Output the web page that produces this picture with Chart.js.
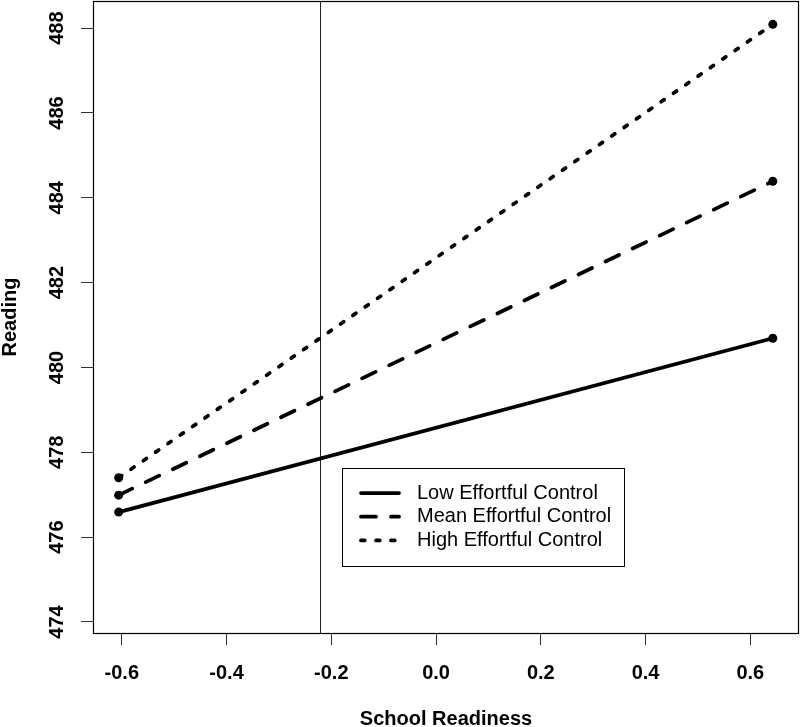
<!DOCTYPE html>
<html>
<head>
<meta charset="utf-8">
<script src="https://cdn.jsdelivr.net/npm/chart.js@4/dist/chart.umd.min.js"></script>
<style>
  html, body { margin: 0; padding: 0; background: #fff; }
  #chart { display: block; }
</style>
</head>
<body>
<canvas id="chart" width="800" height="727"></canvas>
<script>
// data
const xEnds = [-0.606, 0.643];
const lowEC = [476.59, 480.69];
const meanEC = [476.99, 484.39];
const highEC = [477.40, 488.09];
const refLineX = -0.222;
const seriesNames = ["Low Effortful Control", "Mean Effortful Control", "High Effortful Control"];
const xTicks = [-0.6, -0.4, -0.2, 0.0, 0.2, 0.4, 0.6];
const yTicks = [474, 476, 478, 480, 482, 484, 486, 488];

const FONT = '"Liberation Sans", Arial, Helvetica, sans-serif';

function pts(ys) {
  return xEnds.map((x, i) => ({ x: x, y: ys[i] }));
}

// box round the plot, R style
const frame = {
  id: "frame",
  afterDraw(chart) {
    const { ctx, chartArea: a } = chart;
    ctx.save();
    ctx.strokeStyle = "#000";
    ctx.lineWidth = 1.2;
    ctx.strokeRect(a.left + 0.5, a.top + 0.5, a.right - a.left - 1, a.bottom - a.top);
    ctx.restore();
  }
};

// the thin vertical line
const refLine = {
  id: "refLine",
  beforeDatasetsDraw(chart) {
    const { ctx, chartArea: a, scales } = chart;
    const px = Math.round(scales.x.getPixelForValue(refLineX)) + 0.5;
    ctx.save();
    ctx.strokeStyle = "#222";
    ctx.lineWidth = 1;
    ctx.beginPath();
    ctx.moveTo(px, a.top);
    ctx.lineTo(px, a.bottom);
    ctx.stroke();
    ctx.restore();
  }
};

// rotated y tick labels
const yLabels = {
  id: "yLabels",
  afterDraw(chart) {
    const { ctx, scales } = chart;
    ctx.save();
    ctx.fillStyle = "#000";
    ctx.font = "bold 20px " + FONT;
    ctx.textAlign = "center";
    ctx.textBaseline = "alphabetic";
    scales.y.ticks.forEach(t => {
      const py = scales.y.getPixelForValue(t.value);
      ctx.save();
      ctx.translate(63, py);
      ctx.rotate(-Math.PI / 2);
      ctx.fillText(String(t.value), 0, 0);
      ctx.restore();
    });
    ctx.restore();
  }
};

// legend box inside the plot
const boxLegend = {
  id: "boxLegend",
  afterDraw(chart) {
    const { ctx } = chart;
    const left = 342, top = 468, w = 282, h = 98;
    ctx.save();
    ctx.fillStyle = "#fff";
    ctx.fillRect(left, top, w, h);
    ctx.strokeStyle = "#000";
    ctx.lineWidth = 1;
    ctx.strokeRect(left + 0.5, top + 0.5, w, h);
    ctx.font = "20px " + FONT;
    ctx.textBaseline = "middle";
    ctx.textAlign = "left";
    chart.data.datasets.slice(0, 3).forEach((ds, i) => {
      const y = 493 + i * 23.7;
      ctx.strokeStyle = "#000";
      ctx.lineWidth = ds.borderWidth;
      ctx.lineCap = "round";
      ctx.setLineDash(ds.borderDash || []);
      ctx.beginPath();
      ctx.moveTo(361, y);
      ctx.lineTo(399, y);
      ctx.stroke();
      ctx.setLineDash([]);
      ctx.fillStyle = "#000";
      ctx.fillText(seriesNames[i], 417, y);
    });
    ctx.restore();
  }
};

const lineStyle = {
  borderColor: "#000",
  borderWidth: 3.75,
  borderCapStyle: "round",
  pointRadius: 4.5,
  pointBackgroundColor: "#000",
  pointBorderWidth: 0,
  tension: 0,
  fill: false
};

new Chart(document.getElementById("chart"), {
  type: "line",
  data: {
    datasets: [
      { ...lineStyle, label: seriesNames[0], data: pts(lowEC) },
      { ...lineStyle, label: seriesNames[1], data: pts(meanEC), borderDash: [15, 15] },
      { ...lineStyle, label: seriesNames[2], data: pts(highEC), borderDash: [3.75, 11.25] }
    ]
  },
  options: {
    responsive: false,
    animation: false,
    layout: { autoPadding: false, padding: { top: 1, right: 1, left: 0, bottom: 0 } },
    plugins: {
      legend: { display: false },
      tooltip: { enabled: false }
    },
    scales: {
      x: {
        type: "linear",
        min: -0.655,
        max: 0.693,
        afterBuildTicks: s => { s.ticks = xTicks.map(v => ({ value: v })); },
        afterFit: s => { s.height = 94; },
        ticks: {
          color: "#000",
          padding: 16,
          maxRotation: 0,
          font: { family: FONT, size: 20, weight: "bold" },
          callback: v => Number(v).toFixed(1)
        },
        grid: {
          drawOnChartArea: false,
          drawTicks: true,
          tickLength: 12,
          color: "#333",
          lineWidth: 1
        },
        border: { display: false },
        title: {
          display: true,
          text: "School Readiness",
          color: "#000",
          font: { family: FONT, size: 20, weight: "bold", lineHeight: 1 },
          padding: { top: 0, bottom: -2.5 }
        }
      },
      y: {
        type: "linear",
        min: 473.74,
        max: 488.64,
        afterBuildTicks: s => { s.ticks = yTicks.map(v => ({ value: v })); },
        afterFit: s => { s.width = 93; },
        ticks: { display: false },
        grid: {
          drawOnChartArea: false,
          drawTicks: true,
          tickLength: 12,
          color: "#333",
          lineWidth: 1
        },
        border: { display: false },
        title: {
          display: true,
          text: "Reading",
          color: "#000",
          font: { family: FONT, size: 20, weight: "bold", lineHeight: 1 },
          padding: { top: 0, bottom: 0 }
        }
      }
    }
  },
  plugins: [refLine, frame, yLabels, boxLegend]
});
</script>
</body>
</html>
